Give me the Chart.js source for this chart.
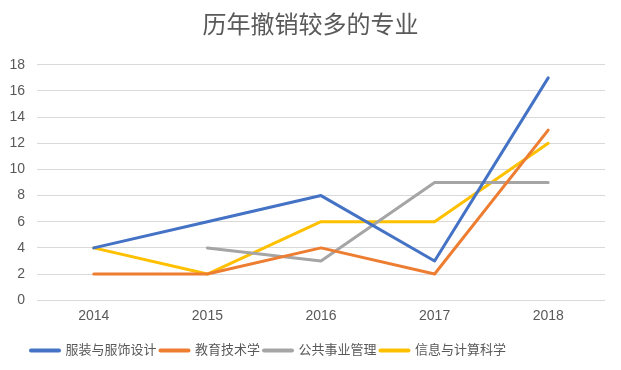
<!DOCTYPE html>
<html>
<head>
<meta charset="utf-8">
<script src="https://cdn.jsdelivr.net/npm/chart.js@4/dist/chart.umd.min.js"></script>
<style>
  html, body { margin: 0; padding: 0; background: #fff; }
  #wrap { width: 621px; height: 370px; }
</style>
</head>
<body>
<div id="wrap"><canvas id="chart" width="621" height="370"></canvas></div>
<script>
// ── datos ──
const years = ['2014', '2015', '2016', '2017', '2018'];
const fuzhuang = [4, 6, 8, 3, 17];       // 服装与服饰设计
const jiaoyu   = [2, 2, 4, 2, 13];       // 教育技术学
const gonggong = [null, 4, 3, 9, 9];     // 公共事业管理
const xinxi    = [4, 2, 6, 6, 12];       // 信息与计算科学
const yTicks   = [0, 2, 4, 6, 8, 10, 12, 14, 16, 18];

const FONT = "'Liberation Sans', 'Noto Sans CJK SC', sans-serif";
const GREY_TEXT = '#595959';

function serie(label, data, color) {
  return {
    label, data,
    borderColor: color, backgroundColor: color,
    borderWidth: 3, pointRadius: 0, pointHoverRadius: 0,
    borderCapStyle: 'round', borderJoinStyle: 'round',
    tension: 0, fill: false, spanGaps: false
  };
}

// ajuste fino de título y leyenda (como en el original)
const shiftBoxes = {
  id: 'shiftBoxes',
  afterLayout(chart) {
    chart.legend.left += 27;
    chart.legend.right += 27;
    chart.titleBlock.left += 8;
    chart.titleBlock.right += 8;
  }
};

new Chart(document.getElementById('chart'), {
  type: 'line',
  data: {
    labels: years,
    datasets: [
      serie('服装与服饰设计', fuzhuang, '#4472C4'),
      serie('教育技术学', jiaoyu, '#ED7D31'),
      serie('公共事业管理', gonggong, '#A5A5A5'),
      serie('信息与计算科学', xinxi, '#FFC000'),
    ]
  },
  options: {
    responsive: false, animation: false,
    layout: { padding: { left: 0, right: 16, top: 0, bottom: 3 } },
    plugins: {
      title: {
        display: true, text: '历年撤销较多的专业', color: GREY_TEXT,
        font: { family: FONT, size: 24, weight: 'normal' },
        padding: { top: 12, bottom: 24 }
      },
      legend: {
        position: 'bottom', align: 'start',
        labels: {
          color: GREY_TEXT, font: { family: FONT, size: 13 },
          usePointStyle: true, pointStyle: 'line', pointStyleWidth: 28,
          boxHeight: 13, padding: 4,
          generateLabels: chart => Chart.defaults.plugins.legend.labels.generateLabels(chart)
            .map(l => Object.assign(l, { lineWidth: 4, lineCap: 'round' }))
        }
      },
      tooltip: { enabled: false }
    },
    scales: {
      x: {
        offset: true,
        afterFit: s => { s.height += 7; },
        grid: { display: false, drawTicks: false },
        border: { display: false },
        ticks: { color: GREY_TEXT, font: { family: FONT, size: 14 }, padding: 8 }
      },
      y: {
        min: 0, max: 18,
        afterBuildTicks: s => { s.ticks = yTicks.map(v => ({ value: v })); },
        afterFit: s => { s.width = 37; },
        grid: { color: '#D9D9D9', lineWidth: 1, drawTicks: false },
        border: { display: false },
        ticks: { color: GREY_TEXT, font: { family: FONT, size: 14 }, padding: 12 }
      }
    }
  },
  plugins: [shiftBoxes]
});
</script>
</body>
</html>
